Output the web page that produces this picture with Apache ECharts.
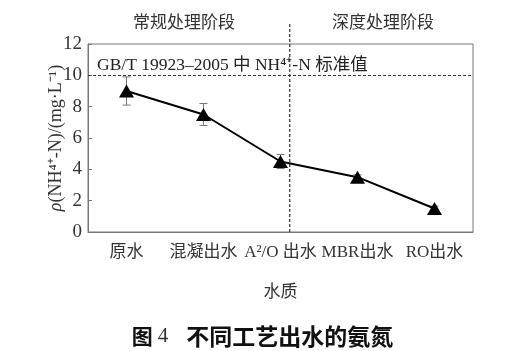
<!DOCTYPE html>
<html><head><meta charset="utf-8">
<script src="https://cdn.jsdelivr.net/npm/echarts@6/dist/echarts.min.js"></script>
<style>html,body{margin:0;padding:0;background:#fff}#c{width:525px;height:351px}</style>
</head><body><div id="c"></div>
<script>
var categories = ['原水', '混凝出水', 'A²/O 出水', 'MBR出水', 'RO出水'];
var values = [9.0, 7.5, 4.5, 3.5, 1.5];
var errors = [0.9, 0.7, 0.45, 0.15, 0.15];
var standardValue = 10;
var stageDivider = 2.12;
var stageDividerTop = 13.4;
var yTicks = [0, 2, 4, 6, 8, 10, 12];

var serif = '"Liberation Serif","Noto Sans CJK SC",serif';
var chart = echarts.init(document.getElementById('c'));
var errData = values.map(function (v, i) { return [i, v - errors[i], v + errors[i]]; });

chart.setOption({
  animation: false,
  backgroundColor: '#fff',
  title: [
    { text: '常规处理阶段', left: 128, top: 10, textStyle: { fontFamily: serif, fontSize: 17, fontWeight: 'normal', color: '#333' } },
    { text: '深度处理阶段', left: 327, top: 10, textStyle: { fontFamily: serif, fontSize: 17, fontWeight: 'normal', color: '#333' } },
    { text: 'GB/T 19923–2005 中 NH⁴⁺-N 标准值', left: 92, top: 52, textStyle: { fontFamily: serif, fontSize: 17.5, fontWeight: 'normal', color: '#222' } },
    { text: '{a|图} {b|4}　{c|不同工艺出水的氨氮}', left: 'center', top: 320,
      textStyle: { rich: {
        a: { fontFamily: '"Noto Sans CJK SC"', fontSize: 21, fontWeight: 'bold', color: '#111' },
        b: { fontFamily: serif, fontSize: 21, fontWeight: 'normal', color: '#333' },
        c: { fontFamily: '"Noto Sans CJK SC"', fontSize: 23, fontWeight: 'bold', color: '#111' }
      } } }
  ],
  grid: { left: 88, right: 52, top: 44, bottom: 119, show: true, borderColor: '#777', borderWidth: 1, containLabel: false },
  xAxis: [{
    type: 'category', data: categories, boundaryGap: true,
    name: '水质', nameLocation: 'middle', nameGap: 52,
    nameTextStyle: { fontFamily: serif, fontSize: 17, color: '#333' },
    axisLine: { onZero: false, lineStyle: { color: '#777', width: 1 } },
    axisTick: { alignWithLabel: true, inside: true, length: 5, lineStyle: { color: '#777' } },
    axisLabel: { fontFamily: serif, fontSize: 17, color: '#333', margin: 12, interval: 0 }
  }, {
    type: 'value', min: -0.5, max: 4.5, show: false
  }],
  yAxis: {
    type: 'value', min: 0, max: 12, interval: 2,
    name: '{i|ρ}(NH⁴⁺-N)/(mg·L⁻¹)', nameLocation: 'middle', nameGap: 23, nameRotate: 90,
    nameMoveOverlap: false,
    nameTextStyle: { fontFamily: serif, fontSize: 18, color: '#333', rich: { i: { fontFamily: serif, fontStyle: 'italic', fontSize: 18, color: '#333' } } },
    axisLine: { show: true, onZero: false, lineStyle: { color: '#777', width: 1 } },
    axisTick: { show: true, inside: true, length: 4, lineStyle: { color: '#777' } },
    splitLine: { show: false },
    axisLabel: { fontFamily: serif, fontSize: 19, color: '#333', margin: 6,
      formatter: function (v) { return yTicks.indexOf(v) >= 0 ? String(v) : ''; } }
  },
  series: [
    {
      type: 'custom', xAxisIndex: 0, data: errData, z: 1,
      renderItem: function (params, api) {
        var x = api.value(0);
        var lo = api.coord([x, api.value(1)]);
        var hi = api.coord([x, api.value(2)]);
        var cw = 4;
        var st = { stroke: '#777', lineWidth: 1 };
        return { type: 'group', children: [
          { type: 'line', shape: { x1: lo[0], y1: lo[1], x2: hi[0], y2: hi[1] }, style: st },
          { type: 'line', shape: { x1: lo[0] - cw, y1: lo[1], x2: lo[0] + cw, y2: lo[1] }, style: st },
          { type: 'line', shape: { x1: hi[0] - cw, y1: hi[1], x2: hi[0] + cw, y2: hi[1] }, style: st }
        ] };
      }
    },
    {
      type: 'line', xAxisIndex: 0, data: values, z: 3,
      symbol: 'triangle', symbolSize: [15, 13],
      itemStyle: { color: '#000' },
      lineStyle: { color: '#000', width: 2 },
      markLine: {
        silent: true, symbol: 'none', label: { show: false },
        lineStyle: { color: '#333', type: [3, 2], width: 1 },
        data: [{ yAxis: standardValue }]
      }
    },
    {
      type: 'line', xAxisIndex: 1, yAxisIndex: 0, clip: false, symbol: 'none', z: 2,
      data: [[stageDivider, 0], [stageDivider, stageDividerTop]],
      lineStyle: { color: '#333', type: [3, 2], width: 1.2 }
    }
  ]
});
</script></body></html>
